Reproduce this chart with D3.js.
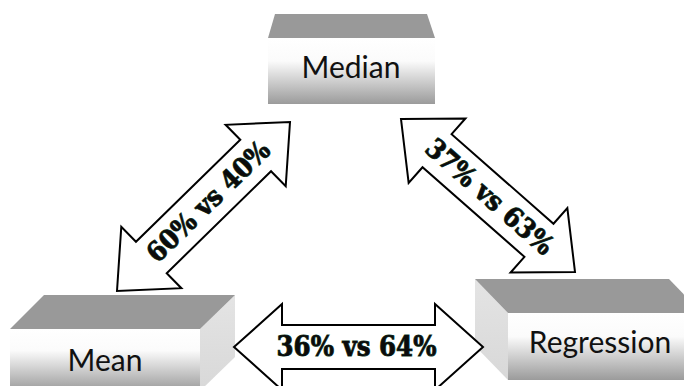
<!DOCTYPE html>
<html>
<head>
<meta charset="utf-8">
<script src="https://cdn.jsdelivr.net/npm/d3@7"></script>
<style>
  html, body { margin: 0; padding: 0; background: #fff; }
  svg { display: block; }
</style>
</head>
<body>
<svg id="chart" width="684" height="386"></svg>
<script>
// Estimation methods compared in the diagram
const methods = ["Median", "Mean", "Regression"];

// Pairwise comparisons: share of cases favouring the first vs the second method
const pairFirst  = ["Mean", "Median", "Mean"];
const pairSecond = ["Median", "Regression", "Regression"];
const shareFirst  = [60, 37, 36];
const shareSecond = [40, 63, 64];

// ---- layout -------------------------------------------------------------
const W = 684, H = 386;
const svg = d3.select("#chart");

// Diagram space mapped onto the canvas
const x = d3.scaleLinear().domain([0, 684]).range([0, W]);
const y = d3.scaleLinear().domain([0, 386]).range([0, H]);

// Box geometry for each method (front face, top face, optional side face)
const boxLayout = {
  Median: {
    front: [268, 38, 435, 104],
    top: [[275, 14], [427, 14], [435, 38], [268, 38]],
    side: null,
    label: [351, 78]
  },
  Mean: {
    front: [10, 329, 200, 391],
    top: [[10, 329], [44, 295], [235, 295], [200, 329]],
    side: [[200, 329], [235, 295], [235, 357], [200, 391]],
    label: [105, 371]
  },
  Regression: {
    front: [508, 313, 702, 380],
    top: [[508, 313], [475, 279], [669, 279], [702, 313]],
    side: [[508, 313], [475, 279], [475, 346], [508, 380]],
    label: [600, 353]
  }
};

// Arrow end points next to each box, per comparison, and label shift along the arrow
const arrowEnds = [
  [[117, 291], [290, 122]],
  [[401, 119], [575, 272]],
  [[234, 347], [483, 347]]
];
const labelShift = [7, 2, -2];
const headLen = 48, headHalf = 43, shaftHalf = 22;

// ---- gradients ----------------------------------------------------------
const defs = svg.append("defs");
const frontGrad = defs.append("linearGradient")
  .attr("id", "frontGrad").attr("x1", 0).attr("y1", 0).attr("x2", 0).attr("y2", 1);
frontGrad.append("stop").attr("offset", "0%").attr("stop-color", "#ffffff");
frontGrad.append("stop").attr("offset", "35%").attr("stop-color", "#fbfbfb");
frontGrad.append("stop").attr("offset", "100%").attr("stop-color", "#9b9b9b");

const sideGrad = defs.append("linearGradient")
  .attr("id", "sideGrad").attr("x1", 0).attr("y1", 0).attr("x2", 0).attr("y2", 1);
sideGrad.append("stop").attr("offset", "0%").attr("stop-color", "#e4e4e4");
sideGrad.append("stop").attr("offset", "100%").attr("stop-color", "#d8d8d8");

const line = d3.line().x(d => x(d[0])).y(d => y(d[1]));
const poly = pts => line(pts) + "Z";

// ---- boxes --------------------------------------------------------------
const boxes = svg.append("g").selectAll("g.box")
  .data(methods)
  .join("g").attr("class", "box");

boxes.filter(m => boxLayout[m].side)
  .append("path")
  .attr("d", m => poly(boxLayout[m].side))
  .attr("fill", "url(#sideGrad)");

boxes.append("path")
  .attr("d", m => poly(boxLayout[m].top))
  .attr("fill", "#999999");

boxes.append("rect")
  .attr("x", m => x(boxLayout[m].front[0]))
  .attr("y", m => y(boxLayout[m].front[1]))
  .attr("width", m => x(boxLayout[m].front[2]) - x(boxLayout[m].front[0]))
  .attr("height", m => y(boxLayout[m].front[3]) - y(boxLayout[m].front[1]))
  .attr("fill", "url(#frontGrad)");

boxes.append("text")
  .attr("x", m => x(boxLayout[m].label[0]))
  .attr("y", m => y(boxLayout[m].label[1]))
  .attr("text-anchor", "middle")
  .attr("font-family", "Lato, 'Open Sans', sans-serif")
  .attr("font-size", 30)
  .attr("fill", "#111")
  .text(m => m);

// ---- double-headed arrows -----------------------------------------------
const pairs = shareFirst.map((s, i) => ({
  first: pairFirst[i], second: pairSecond[i],
  a: s, b: shareSecond[i], ends: arrowEnds[i], shift: labelShift[i]
}));

function arrowOutline(L) {
  const h = L / 2;
  return [
    [-h, 0], [-h + headLen, -headHalf], [-h + headLen, -shaftHalf],
    [h - headLen, -shaftHalf], [h - headLen, -headHalf], [h, 0],
    [h - headLen, headHalf], [h - headLen, shaftHalf],
    [-h + headLen, shaftHalf], [-h + headLen, headHalf]
  ];
}

const arrows = svg.append("g").selectAll("g.arrow")
  .data(pairs)
  .join("g").attr("class", "arrow")
  .attr("transform", d => {
    const [p, q] = d.ends;
    const cx = x((p[0] + q[0]) / 2), cy = y((p[1] + q[1]) / 2);
    const ang = Math.atan2(y(q[1]) - y(p[1]), x(q[0]) - x(p[0])) * 180 / Math.PI;
    return `translate(${cx},${cy}) rotate(${ang})`;
  });

arrows.append("path")
  .attr("d", d => {
    const [p, q] = d.ends;
    const L = Math.hypot(x(q[0]) - x(p[0]), y(q[1]) - y(p[1]));
    return d3.line()(arrowOutline(L)) + "Z";
  })
  .attr("fill", "#fff")
  .attr("stroke", "#000")
  .attr("stroke-width", 2)
  .attr("stroke-linejoin", "miter");

arrows.append("text")
  .attr("x", d => d.shift)
  .attr("y", 9)
  .attr("text-anchor", "middle")
  .attr("font-family", "'DejaVu Serif', 'Liberation Serif', serif")
  .attr("font-weight", "bold")
  .attr("font-size", 27)
  .attr("textLength", 160)
  .attr("lengthAdjust", "spacingAndGlyphs")
  .attr("fill", "#0b0b0b")
  .attr("stroke", "#12462c")
  .attr("stroke-width", 1)
  .attr("paint-order", "stroke")
  .text(d => `${d.a}% vs ${d.b}%`);
</script>
</body>
</html>
